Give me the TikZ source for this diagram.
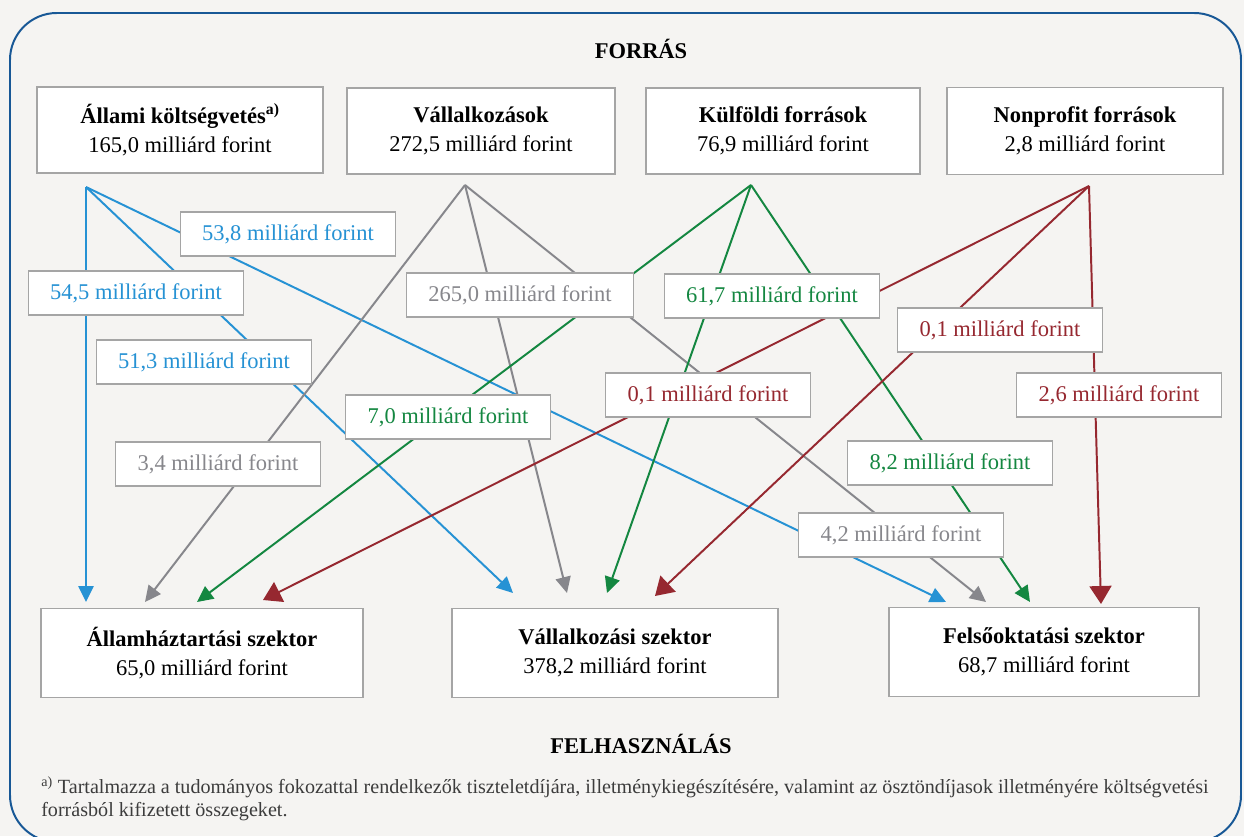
\documentclass[tikz,border=0pt]{standalone}
\usepackage{fontspec}
\setmainfont{Liberation Serif}
\usepackage{xcolor}
\usepackage{tikz}
\usetikzlibrary{arrows.meta}

\definecolor{bgcol}{RGB}{245,244,242}
\definecolor{framecol}{RGB}{24,88,150}
\definecolor{boxgray}{RGB}{165,165,165}
\definecolor{flowblue}{RGB}{38,146,212}
\definecolor{flowgray}{RGB}{135,135,140}
\definecolor{flowgreen}{RGB}{20,135,65}
\definecolor{flowred}{RGB}{150,40,48}
\definecolor{notegray}{RGB}{60,60,60}

\tikzset{
    srcbox/.style={draw=boxgray, fill=white, line width=0.8pt, align=center,
        inner sep=0pt, font=\fontsize{16}{20.5}\selectfont},
    amount/.style={draw=boxgray, fill=white, line width=0.8pt, inner xsep=0.55cm,
        inner ysep=0pt, minimum height=1.1cm, font=\fontsize{16}{20}\selectfont},
    flow/.style={line width=1.4pt, -{Triangle[length=0.4cm,width=0.38cm]}},
    bigflow/.style={line width=1.4pt, -{Triangle[length=0.45cm,width=0.55cm]}}
}

\begin{document}
\begin{tikzpicture}[x=0.025cm, y=-0.025cm]
        \clip (0,0) rectangle (1244,836);
        \fill[bgcol] (0,0) rectangle (1244,836);

        % The frame
        \draw[framecol, line width=1.4pt, rounded corners=1.17cm] (10,13) rectangle (1241,842);

        % The headings
        \node[font=\fontsize{16}{20}\selectfont\bfseries] (forras) at (641,49) {FORRÁS};
        \node[font=\fontsize{16}{20}\selectfont\bfseries] (felh) at (641,744) {FELHASZNÁLÁS};

        % The sources
        \node[srcbox, minimum width=7.15cm, minimum height=2.15cm] (allami) at (180,130)
            {\textbf{Állami költségvetés}\textsuperscript{\textbf{a)}}\\165,0 milliárd forint};
        \node[srcbox, minimum width=6.7cm, minimum height=2.15cm] (vall) at (481,131)
            {\textbf{Vállalkozások}\\272,5 milliárd forint};
        \node[srcbox, minimum width=6.85cm, minimum height=2.15cm] (kulf) at (783,131)
            {\textbf{Külföldi források}\\76,9 milliárd forint};
        \node[srcbox, minimum width=6.9cm, minimum height=2.175cm] (nonpr) at (1085,131)
            {\textbf{Nonprofit források}\\2,8 milliárd forint};

        % The sectors
        \node[srcbox, minimum width=8.05cm, minimum height=2.225cm] (hhsz) at (202,653)
            {\textbf{Államháztartási szektor}\\65,0 milliárd forint};
        \node[srcbox, minimum width=8.15cm, minimum height=2.225cm] (vsz) at (615,653)
            {\textbf{Vállalkozási szektor}\\378,2 milliárd forint};
        \node[srcbox, minimum width=7.75cm, minimum height=2.225cm] (fosz) at (1044,652)
            {\textbf{Felsőoktatási szektor}\\68,7 milliárd forint};

        % Where the flows leave
        \coordinate (allamiout) at (86,187);
        \coordinate (vallout) at (465,185);
        \coordinate (kulfout) at (751,185);
        \coordinate (nonprout) at (1089,186);

        % Where the flows arrive
        \coordinate (hhin1) at (86,602);
        \coordinate (hhin2) at (145,602);
        \coordinate (hhin3) at (197,602);
        \coordinate (hhin4) at (263,600);
        \coordinate (vszin1) at (513,593);
        \coordinate (vszin2) at (567,593);
        \coordinate (vszin3) at (607,593);
        \coordinate (vszin4) at (655,596);
        \coordinate (foszin1) at (946,602);
        \coordinate (foszin2) at (986,602);
        \coordinate (foszin3) at (1030,602);
        \coordinate (foszin4) at (1101,604);

        % The flows
        \draw[flow, flowblue] (allamiout) -- (hhin1);
        \draw[flow, flowblue] (allamiout) -- (vszin1);
        \draw[flow, flowblue] (allamiout) -- (foszin1);

        \draw[flow, flowgray] (vallout) -- (hhin2);
        \draw[flow, flowgray] (vallout) -- (vszin2);
        \draw[flow, flowgray] (vallout) -- (foszin2);

        \draw[flow, flowgreen] (kulfout) -- (hhin3);
        \draw[flow, flowgreen] (kulfout) -- (vszin3);
        \draw[flow, flowgreen] (kulfout) -- (foszin3);

        \draw[bigflow, flowred] (nonprout) -- (hhin4);
        \draw[bigflow, flowred] (nonprout) -- (vszin4);
        \draw[bigflow, flowred] (nonprout) -- (foszin4);

        % The amounts on the flows
        \node[amount, text=flowblue] (a538) at (288,234) {53,8 milliárd forint};
        \node[amount, text=flowblue] (a545) at (136,293) {54,5 milliárd forint};
        \node[amount, text=flowblue] (a513) at (204,362) {51,3 milliárd forint};

        \node[amount, text=flowgray] (a2650) at (520,295) {265,0 milliárd forint};
        \node[amount, text=flowgray] (a34) at (218,464) {3,4 milliárd forint};
        \node[amount, text=flowgray] (a42) at (901,535) {4,2 milliárd forint};

        \node[amount, text=flowgreen] (a617) at (772,296) {61,7 milliárd forint};
        \node[amount, text=flowgreen] (a70) at (448,417) {7,0 milliárd forint};
        \node[amount, text=flowgreen] (a82) at (950,463) {8,2 milliárd forint};

        \node[amount, text=flowred] (a01a) at (1000,330) {0,1 milliárd forint};
        \node[amount, text=flowred] (a01b) at (708,395) {0,1 milliárd forint};
        \node[amount, text=flowred] (a26) at (1119,395) {2,6 milliárd forint};

        % The footnote
        \node[anchor=north west, align=left, inner sep=0pt, text=notegray,
            font=\fontsize{14.3}{16.6}\selectfont] (note) at (41,776)
            {\textsuperscript{a)} Tartalmazza a tudományos fokozattal rendelkezők tiszteletdíjára, illetménykiegészítésére, valamint az ösztöndíjasok illetményére költségvetési\\forrásból kifizetett összegeket.};

\end{tikzpicture}
\end{document}
